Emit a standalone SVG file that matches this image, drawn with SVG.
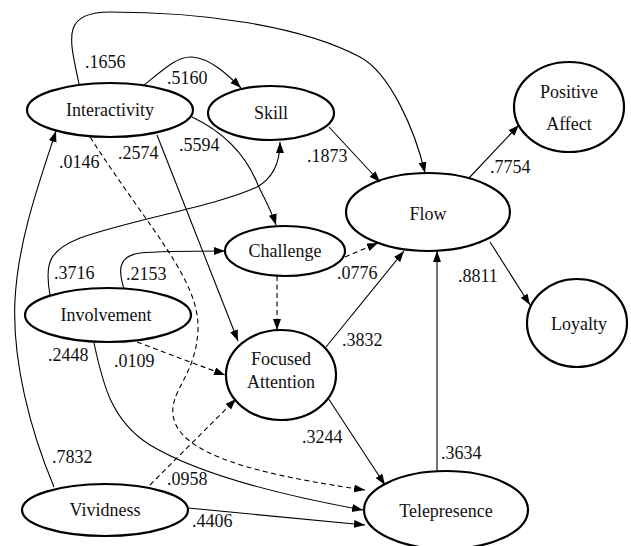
<svg xmlns="http://www.w3.org/2000/svg" width="631" height="546" viewBox="0 0 631 546">
<style>
.node ellipse{fill:#fff;stroke:#000;stroke-width:2.2}
.node text{font-size:18px;fill:#111;text-anchor:middle}
.edge{fill:none;stroke:#000;stroke-width:1.1;marker-end:url(#ah)}
.dash{stroke-dasharray:5,3.5}
.lbl{font-size:18px;fill:#111}
</style>
<defs>
<marker id="ah" markerUnits="userSpaceOnUse" markerWidth="12" markerHeight="9" refX="11" refY="4" orient="auto">
<path d="M0,0 L11,4 L0,8 z" fill="#000"/>
</marker>
</defs>
<rect width="631" height="546" fill="#fff"/>
<g id="nodes" font-family="Liberation Serif, Times New Roman, DejaVu Serif, serif">
<g id="interactivity" class="node"><ellipse cx="110" cy="110" rx="83" ry="27"/><text x="110" y="116">Interactivity</text></g>
<g id="skill" class="node"><ellipse cx="271" cy="113" rx="63" ry="27"/><text x="271" y="119">Skill</text></g>
<g id="positive-affect" class="node"><ellipse cx="569" cy="107" rx="55" ry="45"/><text x="569" y="98">Positive</text><text x="569" y="130">Affect</text></g>
<g id="flow" class="node"><ellipse cx="428" cy="212" rx="82" ry="39"/><text x="428" y="220">Flow</text></g>
<g id="loyalty" class="node"><ellipse cx="577" cy="323" rx="50" ry="44"/><text x="579" y="330">Loyalty</text></g>
<g id="challenge" class="node"><ellipse cx="285" cy="251" rx="60" ry="25"/><text x="285" y="257">Challenge</text></g>
<g id="focused-attention" class="node"><ellipse cx="281" cy="375" rx="55" ry="45"/><text x="281" y="365">Focused</text><text x="281" y="388">Attention</text></g>
<g id="involvement" class="node"><ellipse cx="108" cy="315" rx="83" ry="27"/><text x="106" y="321">Involvement</text></g>
<g id="vividness" class="node"><ellipse cx="105" cy="510" rx="83" ry="26"/><text x="105" y="516">Vividness</text></g>
<g id="telepresence" class="node"><ellipse cx="446" cy="510" rx="82" ry="39"/><text x="446" y="517">Telepresence</text></g>
</g>
<g id="connectors" font-family="Liberation Serif, Times New Roman, DejaVu Serif, serif">
<path class="edge" d="M79,84 C70,40 60,12 110,12 C200,12 300,25 360,57 C390,73 415,130 425,173"/>
<path class="edge" d="M143,86 C165,68 178,56 192,57 C210,58 228,75 241,88"/>
<path class="edge" d="M192,117 C230,135 248,160 258,185 C265,200 272,212 276,225"/>
<path class="edge" d="M157,135 L238,341"/>
<path class="edge dash" d="M90,137 C150,230 200,280 198,330 C196,375 170,390 173,415 C178,455 260,475 365,490"/>
<path class="edge" d="M329,127 L380,182"/>
<path class="edge" d="M469,178 L519,125"/>
<path class="edge" d="M490,242 L530,305"/>
<path class="edge dash" d="M345,257 L378,243"/>
<path class="edge" d="M326,347 L404,251"/>
<path class="edge dash" d="M277,276 L277,330"/>
<path class="edge" d="M437,471 L437,251"/>
<path class="edge" d="M328,398 L385,485"/>
<path class="edge" d="M50,295 C44,262 50,250 80,238 C130,220 220,205 257,187 C275,177 280,160 280,142"/>
<path class="edge" d="M124,289 C118,270 118,256 140,253 C160,251 190,251 225,251"/>
<path class="edge dash" d="M137,342 L225,375"/>
<path class="edge" d="M94,343 C102,380 110,420 150,445 C200,475 280,495 363,510"/>
<path class="edge" d="M54,487 C30,430 12,360 15,300 C18,240 40,180 56,131"/>
<path class="edge dash" d="M150,485 L236,399"/>
<path class="edge" d="M188,508 L365,525"/>
<g id="labels">
<text class="lbl" x="85" y="68">.1656</text>
<text class="lbl" x="167" y="84">.5160</text>
<text class="lbl" x="59" y="168">.0146</text>
<text class="lbl" x="118" y="159">.2574</text>
<text class="lbl" x="179" y="151">.5594</text>
<text class="lbl" x="307" y="162">.1873</text>
<text class="lbl" x="490" y="173">.7754</text>
<text class="lbl" x="337" y="279">.0776</text>
<text class="lbl" x="458" y="282">.8811</text>
<text class="lbl" x="342" y="346">.3832</text>
<text class="lbl" x="54" y="279">.3716</text>
<text class="lbl" x="126" y="280">.2153</text>
<text class="lbl" x="48" y="361">.2448</text>
<text class="lbl" x="114" y="367">.0109</text>
<text class="lbl" x="52" y="463">.7832</text>
<text class="lbl" x="167" y="485">.0958</text>
<text class="lbl" x="192" y="527">.4406</text>
<text class="lbl" x="302" y="443">.3244</text>
<text class="lbl" x="441" y="459">.3634</text>
</g>
</g>
</svg>
